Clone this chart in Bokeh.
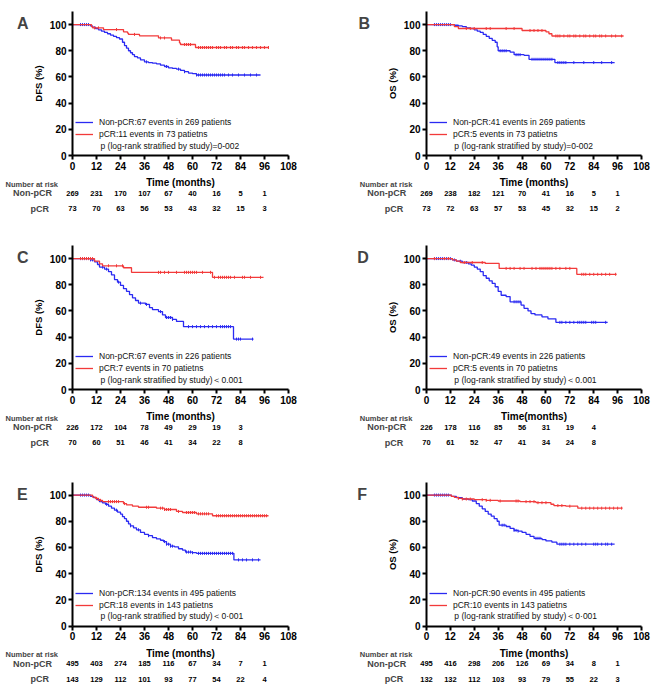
import numpy as np
from bokeh.plotting import figure
from bokeh.layouts import column, row
from bokeh.core.properties import value
from bokeh.models import (Range1d, FixedTicker, Legend, LegendItem, Label,
                          LabelSet, ColumnDataSource)
from bokeh.embed import file_html
from bokeh.resources import INLINE

# ---------------- data ----------------
risk_times = [0, 12, 24, 36, 48, 60, 72, 84, 96]
x_ticks = [0, 12, 24, 36, 48, 60, 72, 84, 96, 108]
y_ticks = [0, 20, 40, 60, 80, 100]

# Panel A (DFS)
a_non_t = [0, 9, 10, 11.5, 13, 14.5, 16, 17.5, 19, 20.5, 22, 23.5, 25, 26, 27, 28, 29, 30, 31, 32.5, 34, 36, 38, 40, 42, 44, 46, 48, 50, 52, 54, 56, 58, 60, 62, 94]
a_non_s = [100, 99, 98, 97, 96, 95, 94, 93, 92, 91, 90, 89, 86.5, 84, 82, 80, 78.5, 77, 75.5, 74.5, 73, 71.5, 71, 70.5, 70, 69, 68, 67, 66.5, 66, 65, 64, 63, 62.5, 61.5, 61.5]
a_non_c = [4, 5, 6, 7, 8, 37, 47, 53, 56, 62, 63, 64, 65, 66, 67, 68, 69, 70, 71, 72, 73, 74, 75, 76, 78, 80, 83, 86, 89, 92]
a_pcr_t = [0, 9.5, 10, 15.5, 25.5, 27.5, 28, 33.5, 43, 49.5, 53.5, 54, 61.5, 98]
a_pcr_s = [100, 98.5, 97.5, 96.2, 94.5, 93.5, 92.5, 91.4, 89.8, 88.1, 86, 84.8, 82.5, 82.5]
a_pcr_c = [11, 13, 22, 31, 44, 46, 56, 57, 58, 59, 63, 64, 65, 66, 67, 68, 69, 70, 72, 73, 74, 76, 77, 79, 80, 82, 83, 85, 86, 88, 90, 92, 94, 96, 98]
a_risk_non = [269, 231, 170, 107, 67, 40, 16, 5, 1]
a_risk_pcr = [73, 70, 63, 56, 53, 43, 32, 15, 3]

# Panel B (OS)
b_non_t = [0, 14, 16, 18, 20, 22, 24, 25.5, 27, 28.5, 30, 31.5, 33, 34.5, 35.5, 36, 42, 44, 49, 51.5, 64.5, 94.5]
b_non_s = [100, 99.5, 99, 98.5, 97.5, 97, 96, 95, 94, 92.5, 91, 89.5, 88, 86.5, 83, 80, 79, 77, 76.5, 73.5, 71, 71]
b_non_c = [4, 5, 6, 7, 8, 9, 10, 11, 12, 37, 38, 39, 40, 45, 46, 47, 53, 54, 55, 56, 57, 58, 59, 60, 61, 62, 63, 66, 67, 68, 69, 70, 74, 79, 84, 88, 93]
b_pcr_t = [0, 14, 16, 48, 60, 61.5, 63, 99]
b_pcr_s = [100, 98.5, 97, 95.5, 94.5, 93, 91.3, 91.3]
b_pcr_c = [20, 22, 24, 30, 32, 40, 44, 52, 54, 56, 58, 65, 66, 67, 69, 71, 72, 74, 75, 77, 79, 80, 82, 84, 85, 87, 88, 90, 93, 95, 98]
b_risk_non = [269, 238, 182, 121, 70, 41, 16, 5, 1]
b_risk_pcr = [73, 72, 63, 57, 53, 45, 32, 15, 2]

# Panel C (DFS)
c_non_t = [0, 9, 11, 12.5, 13.5, 16, 18, 19.5, 21, 22.5, 24, 25.5, 27, 28.5, 30, 31.5, 33, 36.5, 38.5, 40, 43, 45, 46.5, 50, 52, 55.5, 80.5, 90.5]
c_non_s = [100, 99, 97.5, 95.5, 93.5, 92, 90, 87.5, 84, 82, 79.5, 77, 75, 72.5, 70, 68, 66, 65, 62.5, 61, 59.5, 57, 55, 53.5, 52, 48, 38.5, 38.5]
c_non_c = [4, 5, 6, 7, 8, 9, 10, 15, 17, 23, 34, 37, 44, 47, 48, 49, 50, 58, 60, 62, 64, 66, 68, 70, 72, 74, 75, 76, 77, 78, 79, 82, 83, 84, 90]
c_pcr_t = [0, 11, 13.5, 15, 25.5, 29.5, 70, 95.5]
c_pcr_s = [100, 98, 96, 94.5, 93, 89.5, 85.7, 85.7]
c_pcr_c = [4, 5, 6, 7, 8, 9, 10, 18, 22, 25, 43, 44, 46, 48, 52, 56, 57, 58, 59, 60, 61, 62, 65, 69, 71, 73, 74, 75, 76, 77, 78, 79, 81, 85, 86, 89, 94]
c_risk_non = [226, 172, 104, 78, 49, 29, 19, 3]
c_risk_pcr = [70, 60, 51, 46, 41, 34, 22, 8]

# Panel D (OS)
d_non_t = [0, 13, 15, 18, 21, 22.5, 24, 25.5, 27, 28.5, 30, 31.5, 33, 34.5, 36, 37.5, 40, 42, 47.5, 49, 51, 52.5, 54.5, 58, 61, 65, 91]
d_non_s = [100, 99, 98, 97, 96, 95, 93.5, 92, 90, 87, 85, 83, 81, 78.5, 75, 72, 71, 67, 64.5, 62, 60, 58, 57, 55.5, 54, 51.3, 51.3]
d_non_c = [4, 5, 6, 7, 8, 9, 10, 11, 12, 14, 17, 20, 44, 45, 46, 47, 67, 68, 70, 72, 74, 76, 77, 78, 79, 80, 83, 84, 85, 90]
d_pcr_t = [0, 13, 15, 17, 29.5, 36.5, 75.5, 95.5]
d_pcr_s = [100, 99, 98, 97, 96.3, 92.5, 88, 88]
d_pcr_c = [4, 9, 11, 19, 23, 28, 40, 42, 44, 47, 49, 53, 55, 57, 58, 59, 60, 61, 62, 63, 65, 67, 70, 72, 78, 79, 80, 82, 84, 86, 88, 90, 92, 95]
d_risk_non = [226, 178, 116, 85, 56, 31, 19, 4]
d_risk_pcr = [70, 61, 52, 47, 41, 34, 24, 8]

# Panel E (DFS)
e_non_t = [0, 9, 10.5, 12, 13.5, 15, 16.5, 18, 19.5, 21, 22.5, 24, 25, 26, 27, 28, 29, 30.5, 32, 34, 36, 38, 40, 42, 44, 45.5, 47, 49, 51, 53, 55, 56.5, 60, 62, 80.7, 94]
e_non_s = [100, 99, 98, 96.5, 95, 94, 93, 91.5, 90, 88.5, 87, 85.5, 83.5, 82, 80, 78, 76.5, 75, 73.5, 71.5, 70, 69, 67.5, 66.5, 65.5, 64.5, 62.5, 61, 60.5, 59, 58, 56.5, 56, 55.5, 50.5, 50.5]
e_non_c = [4, 5, 6, 7, 8, 17, 22, 29, 33, 38, 46, 47, 48, 49, 50, 57, 58, 59, 60, 63, 64, 65, 66, 67, 68, 69, 70, 71, 72, 73, 74, 75, 76, 77, 78, 79, 80, 83, 85, 87, 90, 93]
e_pcr_t = [0, 10, 11.5, 13, 15, 25.5, 27, 30, 33, 42, 46, 52, 55, 62, 70, 98]
e_pcr_s = [100, 98.5, 97.5, 96, 95, 93.5, 92.5, 91.5, 90.7, 90, 89, 87.5, 86.7, 85.7, 84.2, 84.2]
e_pcr_c = [12, 14, 18, 19, 20, 21, 22, 23, 26, 37, 38, 44, 45, 46, 47, 48, 49, 53, 57, 58, 59, 60, 61, 63, 64, 65, 66, 67, 68, 72, 73, 74, 75, 76, 77, 78, 79, 80, 81, 82, 83, 84, 85, 86, 87, 88, 89, 90, 91, 92, 93, 94, 95, 96, 97]
e_risk_non = [495, 403, 274, 185, 116, 67, 34, 7, 1]
e_risk_pcr = [143, 129, 112, 101, 93, 77, 54, 22, 4]

# Panel F (OS)
f_non_t = [0, 12.5, 15, 18, 21, 23, 25, 26.5, 28, 29.5, 31, 32.5, 34, 35.5, 36.5, 40, 42, 44, 46, 48, 50, 52, 54, 58, 60, 63, 65.5, 94.5]
f_non_s = [100, 99, 98, 97, 96.5, 95.5, 93.5, 91.5, 89.5, 87.5, 85.5, 84, 82, 80, 77, 76, 74.5, 73, 72.5, 71.5, 70, 68.5, 67, 66, 65, 64, 62.5, 62.5]
f_non_c = [4, 5, 6, 7, 8, 9, 10, 11, 38, 39, 44, 45, 46, 55, 56, 57, 67, 68, 69, 70, 72, 74, 76, 78, 80, 84, 85, 86, 88, 90, 91, 93]
f_pcr_t = [0, 12.5, 14, 16, 18, 24, 30, 36, 47, 55, 62.5, 64, 70, 76, 98.5]
f_pcr_s = [100, 99, 98.2, 97.5, 97, 96.5, 96, 95.5, 95, 94.2, 93, 92, 91.5, 90, 90]
f_pcr_c = [16, 18, 20, 22, 28, 30, 32, 37, 45, 46, 50, 52, 54, 56, 58, 60, 66, 68, 72, 78, 80, 82, 84, 86, 88, 90, 92, 94, 96, 98]
f_risk_non = [495, 416, 298, 206, 126, 69, 34, 8, 1]
f_risk_pcr = [132, 132, 112, 103, 93, 79, 55, 22, 3]

BLUE = "#2a2af2"
RED = "#f23a3a"
FONT = "Liberation Sans"
KY = 144.0 / 110.0  # px per percent


def surv_at(t, s, c):
    t = np.asarray(t, dtype=float)
    s = np.asarray(s, dtype=float)
    idx = np.searchsorted(t, np.asarray(c, dtype=float), side="right") - 1
    return s[idx]


def make_panel(letter, ylabel, xlabel, non, pcr, leg_non, leg_pcr, ptext,
               risk_non, risk_pcr, width, height, left, base, axis_px, letter_px):
    kx = axis_px / 108.0
    x_range = Range1d(-left / kx, (width - left) / kx)
    y_range = Range1d(-(height - base) / KY, base / KY)
    p = figure(width=width, height=height, x_range=x_range, y_range=y_range,
               output_backend="svg", toolbar_location=None, min_border=0,
               min_border_left=0, min_border_right=0, min_border_top=0, min_border_bottom=0)
    p.outline_line_color = None
    p.xgrid.visible = False
    p.ygrid.visible = False
    p.xaxis.ticker = FixedTicker(ticks=x_ticks)
    p.yaxis.ticker = FixedTicker(ticks=y_ticks)
    p.xaxis.axis_label = xlabel
    p.yaxis.axis_label = ylabel
    p.xaxis.fixed_location = 0
    p.yaxis.fixed_location = 0
    p.xaxis.bounds = (0, 108)
    p.yaxis.bounds = (0, 110)
    for ax in (p.xaxis[0], p.yaxis[0]):
        ax.axis_line_width = 2
        ax.axis_line_color = "black"
        ax.major_tick_line_width = 2
        ax.major_tick_out = 4
        ax.major_tick_in = 0
        ax.minor_tick_out = 0
        ax.minor_tick_in = 0
        ax.major_label_text_font = FONT
        ax.major_label_text_font_style = "bold"
        ax.major_label_text_font_size = "10px"
        ax.major_label_text_color = "black"
        ax.axis_label_text_font = FONT
        ax.axis_label_text_font_style = "bold"
        ax.axis_label_text_color = "black"
        ax.major_label_standoff = 2
    p.xaxis.axis_label_text_font_size = "10px"
    p.yaxis.axis_label_text_font_size = "9.5px"
    p.xaxis.axis_label_standoff = 4
    p.yaxis.axis_label_standoff = 3

    items = []
    for (t, s, c), col, lab in ((non, BLUE, leg_non), (pcr, RED, leg_pcr)):
        lr = p.step(t, s, mode="after", line_color=col, line_width=1.3)
        cs = ColumnDataSource(dict(x=c, y=surv_at(t, s, c)))
        cr = p.scatter("x", "y", source=cs, marker="dash", angle=np.pi / 2, size=3,
                       line_color=col, line_width=1.0)
        items.append(LegendItem(label=lab, renderers=[lr, cr]))
    leg = Legend(items=items, location=(left + 3, (height - base) + 15), padding=0, margin=0,
                 spacing=0, label_height=12, glyph_height=12, glyph_width=18, label_standoff=6,
                 label_text_font=FONT, label_text_font_size="8.5px", label_text_color="#111111",
                 border_line_color=None, background_fill_alpha=0)
    p.add_layout(leg)
    p.add_layout(Label(x=14, y=7.3, text=ptext, text_font=FONT, text_font_size="8.5px",
                       text_baseline="middle", text_color="#111111"))
    p.add_layout(Label(x=-letter_px / kx, y=100.5, text=letter,
                       text_font=FONT, text_font_size="16px",
                       text_font_style="bold", text_baseline="middle"))

    n = len(risk_non)
    rsrc = ColumnDataSource(dict(
        x=risk_times[:n] + risk_times[:n],
        y=[-29.0] * n + [-40.5] * n,
        text=[str(v) for v in risk_non] + [str(v) for v in risk_pcr]))
    p.add_layout(LabelSet(x="x", y="y", text="text", source=rsrc, text_align="center",
                          text_baseline="middle", text_font=value(FONT),
                          text_font_size=value("7.5px"),
                          text_font_style=value("bold"), text_color=value("black")))
    p.add_layout(Label(x=-33.5, y=-21.8, text="Number at risk", text_font=FONT,
                       text_font_size="7.5px", text_font_style="bold", text_baseline="middle"))
    p.add_layout(Label(x=-29.8, y=-29.0, text="Non-pCR", text_font=FONT,
                       text_font_size="9px", text_font_style="bold", text_baseline="middle"))
    p.add_layout(Label(x=-21, y=-40.5, text="pCR", text_font=FONT,
                       text_font_size="9px", text_font_style="bold", text_baseline="middle"))
    return p


LW, RW = 354, 306
pA = make_panel("A", "DFS (%)", "Time (months)", (a_non_t, a_non_s, a_non_c), (a_pcr_t, a_pcr_s, a_pcr_c),
                "Non-pCR:67 events in 269 patients", "pCR:11 events in 73 patietns",
                "p (log-rank stratified by study)=0-002", a_risk_non, a_risk_pcr, LW, 235, 72, 155, 216, 55.5)
pB = make_panel("B", "OS (%)", "Time (months)", (b_non_t, b_non_s, b_non_c), (b_pcr_t, b_pcr_s, b_pcr_c),
                "Non-pCR:41 events in 269 patients", "pCR:5 events in 73 patietns",
                "p (log-rank stratified by study)=0-002", b_risk_non, b_risk_pcr, RW, 235, 72, 155, 215, 68)
pC = make_panel("C", "DFS (%)", "Time (months)", (c_non_t, c_non_s, c_non_c), (c_pcr_t, c_pcr_s, c_pcr_c),
                "Non-pCR:67 events in 226 patients", "pCR:7 events in 70 patietns",
                "p (log-rank stratified by study)\uff1c0.001", c_risk_non, c_risk_pcr, LW, 235, 72, 154, 216, 55.5)
pD = make_panel("D", "OS (%)", "Time(months)", (d_non_t, d_non_s, d_non_c), (d_pcr_t, d_pcr_s, d_pcr_c),
                "Non-pCR:49 events in 226 patients", "pCR:5 events in 70 patietns",
                "p (log-rank stratified by study)\uff1c0.001", d_risk_non, d_risk_pcr, RW, 235, 72, 154, 215, 69.3)
pE = make_panel("E", "DFS (%)", "Time (months)", (e_non_t, e_non_s, e_non_c), (e_pcr_t, e_pcr_s, e_pcr_c),
                "Non-pCR:134 events in 495 patients", "pCR:18 events in 143 patietns",
                "p (log-rank stratified by study)\uff1c0\u00b7001", e_risk_non, e_risk_pcr, LW, 230, 72, 155.5, 216, 55.5)
pF = make_panel("F", "OS (%)", "Time (months)", (f_non_t, f_non_s, f_non_c), (f_pcr_t, f_pcr_s, f_pcr_c),
                "Non-pCR:90 events in 495 patients", "pCR:10 events in 143 patietns",
                "p (log-rank stratified by study)\uff1c0\u00b7001", f_risk_non, f_risk_pcr, RW, 230, 72, 155.5, 215, 69.3)

layout = column(row(pA, pB), row(pC, pD), row(pE, pF))
open("out.html", "w").write(file_html(layout, INLINE))
